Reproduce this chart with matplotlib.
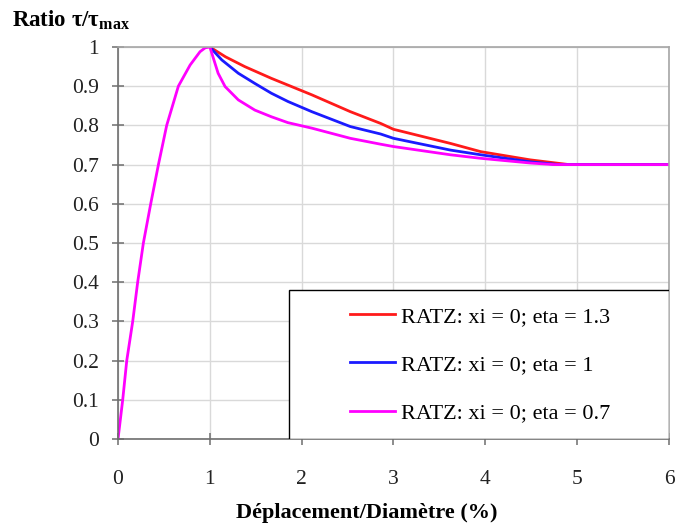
import matplotlib.pyplot as plt
from matplotlib.patches import Rectangle

plt.rcParams['font.family'] = ['Liberation Serif', 'DejaVu Serif']
plt.rcParams['mathtext.fontset'] = 'custom'
plt.rcParams['mathtext.rm'] = 'Liberation Serif'
plt.rcParams['mathtext.bf'] = 'Liberation Serif:bold'

# Rising branch (same for all curves, only the top one is visible)
x_rise = [0.0, 0.051, 0.095, 0.16, 0.214, 0.276, 0.356, 0.44, 0.53, 0.657, 0.785, 0.893, 0.95, 1.0]
y_rise = [0.0, 0.10, 0.20, 0.30, 0.40, 0.50, 0.60, 0.70, 0.80, 0.90, 0.954, 0.988, 0.998, 1.0]

# Softening branches
x_eta13 = [1.0, 1.17, 1.38, 1.67, 1.89, 2.11, 2.53, 2.86, 3.0, 3.62, 3.95, 4.49, 4.91, 6.0]
y_eta13 = [1.0, 0.975, 0.95, 0.92, 0.899, 0.878, 0.835, 0.805, 0.79, 0.754, 0.733, 0.712, 0.70, 0.70]

x_eta1 = [1.0, 1.13, 1.31, 1.49, 1.67, 1.85, 2.11, 2.53, 2.86, 3.0, 3.62, 3.95, 4.49, 4.8, 6.0]
y_eta1 = [1.0, 0.967, 0.933, 0.907, 0.882, 0.861, 0.835, 0.797, 0.778, 0.767, 0.737, 0.725, 0.707, 0.70, 0.70]

x_eta07 = [1.0, 1.09, 1.166, 1.31, 1.49, 1.67, 1.85, 2.11, 2.53, 2.86, 3.0, 3.62, 3.95, 4.49, 4.75, 6.0]
y_eta07 = [1.0, 0.933, 0.899, 0.865, 0.839, 0.822, 0.807, 0.793, 0.767, 0.752, 0.746, 0.725, 0.716, 0.704, 0.70, 0.70]

labels = ['RATZ: xi = 0; eta = 1.3', 'RATZ: xi = 0; eta = 1', 'RATZ: xi = 0; eta = 0.7']
colors = ['#ff1a1a', '#1a1aff', '#ff00ff']

fig = plt.figure(figsize=(6.76, 5.28), dpi=100)
ax = fig.add_axes([0.1746, 0.1686, 0.815, 0.7424])

ax.plot(x_eta13, y_eta13, color=colors[0], lw=2.0, label=labels[0])
ax.plot(x_eta1, y_eta1, color=colors[1], lw=2.0, label=labels[1])
ax.plot(x_rise + x_eta07[1:], y_rise + y_eta07[1:], color=colors[2], lw=2.0, label=labels[2])

ax.set_xlim(0, 6)
ax.set_ylim(0, 1)
ax.set_xticks(range(7))
ax.set_yticks([i / 10 for i in range(11)])
ax.set_yticklabels(['0'] + ['%.1f' % (i / 10) for i in range(1, 10)] + ['1'])
ax.grid(True, color='#d9d9d9', lw=1)
ax.set_axisbelow(True)

for s in ['left', 'bottom']:
    ax.spines[s].set_color('#6e6e6e')
    ax.spines[s].set_linewidth(1.2)
for s in ['top', 'right']:
    ax.spines[s].set_color('#a6a6a6')
    ax.spines[s].set_linewidth(1.2)

ax.tick_params(axis='both', direction='inout', length=9, width=1.1, color='#6e6e6e',
               labelsize=15.5, labelcolor='#222222')
ax.tick_params(axis='x', pad=18)
ax.tick_params(axis='y', pad=9)

fig.text(367 / 676, 0.0284, 'Déplacement/Diamètre (%)', fontsize=16, fontweight='bold',
         ha='center', va='center')
fig.text(0.018, 0.962, r'Ratio τ/τ$_{\mathbf{max}}$', fontsize=16.5, fontweight='bold',
         ha='left', va='center')

# legend frame (Excel style, wider than its content)
ax.add_patch(Rectangle((0.310, 0.0), 0.690, 0.380, transform=ax.transAxes,
                       facecolor='white', edgecolor='black', lw=1.0, zorder=4))
leg = ax.legend(loc='center', bbox_to_anchor=(0.658, 0.189), fontsize=16, frameon=False,
                labelspacing=1.25, handlelength=2.0, handletextpad=0.3, borderpad=0)
leg.set_zorder(5)

fig.savefig('out.png', dpi=100)
